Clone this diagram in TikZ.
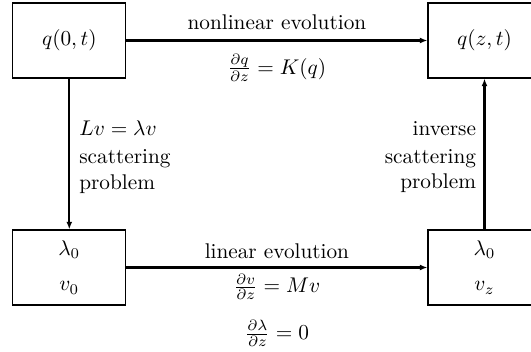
\documentclass[tikz,border=0pt]{standalone}
\usetikzlibrary{arrows.meta}
\begin{document}
\begin{tikzpicture}[x=0.47pt,y=-0.47pt,
  box/.style={draw, line width=0.5pt, minimum width=53.1pt, minimum height=35.25pt, inner sep=0pt},
  arr/.style={line width=1pt, -{Latex[length=3.6pt,width=2.8pt]}},
  lbl/.style={inner sep=0pt}]
\useasboundingbox (0,0) rectangle (531,352);
\node[box] (A) at (69.3,40.5) {$q(0,t)$};
\node[box] (B) at (484.5,40.5) {$q(z,t)$};
\node[box, align=center] (C) at (69.3,267.5) {$\lambda_0$\\[4.5pt]$v_0$};
\node[box, align=center] (D) at (484.5,267.5) {$\lambda_0$\\[4.5pt]$v_z$};
\draw[arr] (A) -- node[lbl, above=4.5pt] (t1) {nonlinear evolution}
  node[lbl, below=6pt] (t2) {$\frac{\partial q}{\partial z}=K(q)$} (B);
\draw[arr] (C) -- node[lbl, above=3.5pt] (t3) {linear evolution}
  node[lbl, below=2.5pt] (t4) {$\frac{\partial v}{\partial z}=Mv$} (D);
\node[lbl, below=9pt] (t5) at (t4.south) {$\frac{\partial\lambda}{\partial z}=0$};
\draw[arr] (A) -- node[lbl, right=4.2pt, yshift=-1.5pt, align=left] (t6) {$Lv=\lambda v$\\[1pt]scattering\\[0pt]problem} (C);
\draw[arr] (D) -- node[lbl, left=3.5pt, yshift=-1.5pt, align=right] (t7) {inverse\\[1pt]scattering\\[0pt]problem} (B);
\end{tikzpicture}
\end{document}
